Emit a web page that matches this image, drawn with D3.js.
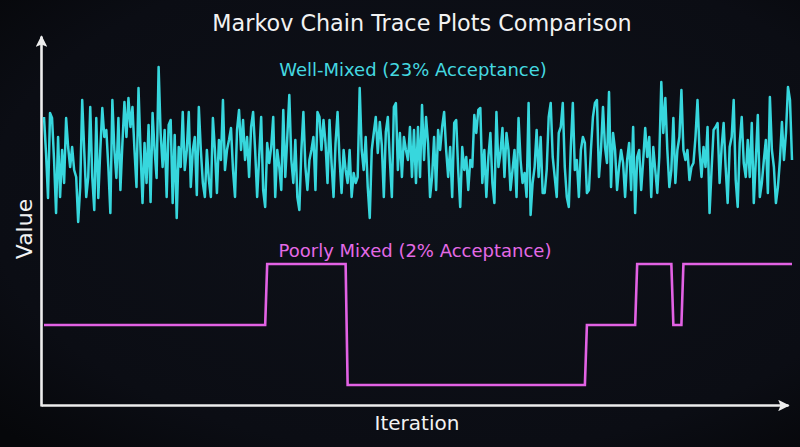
<!DOCTYPE html>
<html>
<head>
<meta charset="utf-8">
<script src="https://cdn.jsdelivr.net/npm/d3@7"></script>
<style>
  html, body { margin: 0; padding: 0; background: #0b0d14; }
  svg { display: block; }
</style>
</head>
<body>
<svg id="chart" width="800" height="447"></svg>
<script>
// ---------- DATA ----------
const titleText = "Markov Chain Trace Plots Comparison";
const xLabel = "Iteration";
const yLabel = "Value";
const wellLabel = "Well-Mixed (23% Acceptance)";
const poorLabel = "Poorly Mixed (2% Acceptance)";

// Well-mixed chain (23% acceptance)
const wellMixed = [
  288,252,207,292,287,245,192,268,208,255,222,287,258,238,258,235,228,183,218,305,
  255,208,228,298,228,195,287,207,255,297,268,275,238,192,305,255,227,287,215,262,
  303,268,307,278,298,255,218,317,255,202,262,222,280,203,292,255,227,338,272,238,
  275,208,280,285,202,270,187,258,238,293,235,255,293,218,255,268,210,298,255,222,
  208,
  255,225,208,287,255,212,265,245,305,235,255,265,277,235,208,275,295,255,285,245,
  268,228,278,293,255,208,248,288,215,198,262,242,258,288,208,255,238,215,295,228,
  268,310,245,222,265,208,195,255,293,238,215,245,255,268,215,293,288,255,285,262,
  222,285,242,208,262,293,245,212,255,235,222,255,208,232,222,228,317,255,235,268,
  218,187,255,272,288,252,283,260,208,273,288,245,208,298,302,
  235,272,228,268,255,245,278,228,275,222,278,228,300,245,288,262,208,228,268,215,
  275,255,278,293,255,228,258,208,282,285,235,198,258,235,248,215,245,238,290,272,
  295,297,222,255,208,248,272,222,202,293,238,252,277,228,272,255,215,235,255,208,
  287,245,222,232,208,302,190,222,238,275,228,268,212,212,235,288,302,248,228,208,
  272,278,302,238,208,198,258,302,235,245,208,255,268,262,212,215,255,288,
  302,305,228,255,298,258,242,313,218,272,255,215,238,255,242,208,245,262,215,278,
  192,248,255,215,245,277,248,268,208,258,235,212,248,323,272,307,255,218,235,287,
  222,255,268,315,255,245,255,225,238,242,268,305,255,228,258,238,278,192,235,275,
  278,282,222,258,282,238,202,258,268,305,225,198,262,288,242,228,265,228,282,202,
  245,290,208,222,245,265,212,308,255,238,202,218,245,283,245,272,318,305,245
];

// Poorly-mixed chain (2% acceptance): stuck levels and how many iterations each lasts
const poorRunValues  = [80, 141, 20, 80, 141, 80, 141];
const poorRunLengths = [111, 40, 119, 25, 18, 5, 55];

// ---------- BUILD ----------
const poorMixed = [];
poorRunValues.forEach((v, i) => { for (let k = 0; k < poorRunLengths[i]; k++) poorMixed.push(v); });

const W = 800, H = 447;
const svg = d3.select("#chart");

// background with soft vignette
const defs = svg.append("defs");
const bg = defs.append("radialGradient").attr("id", "bg").attr("cx", "55%").attr("cy", "45%").attr("r", "75%");
bg.append("stop").attr("offset", "0%").attr("stop-color", "#0e1119");
bg.append("stop").attr("offset", "75%").attr("stop-color", "#0b0d14");
bg.append("stop").attr("offset", "100%").attr("stop-color", "#06070a");
svg.append("rect").attr("width", W).attr("height", H).attr("fill", "url(#bg)");

defs.append("marker").attr("id", "arrow").attr("viewBox", "0 0 10 10")
  .attr("refX", 9).attr("refY", 5).attr("markerWidth", 4.4).attr("markerHeight", 4.4)
  .attr("markerUnits", "strokeWidth").attr("orient", "auto")
  .append("path").attr("d", "M0,0 L10,5 L0,10 L2,5 Z").attr("fill", "#ededed");

const x = d3.scaleLinear().domain([0, wellMixed.length - 1]).range([44, 792]);
const y = d3.scaleLinear().domain([0, 365]).range([405, 40]);

// axes (no ticks), with arrows
const axisColor = "#ededed";
const xAxis = d3.axisBottom(d3.scaleLinear().domain([0, 1]).range([41, 788])).tickValues([]).tickSizeOuter(0);
const yAxis = d3.axisLeft(d3.scaleLinear().domain([0, 1]).range([406, 36])).tickValues([]).tickSizeOuter(0);
const gx = svg.append("g").attr("transform", "translate(0,405)").call(xAxis);
const gy = svg.append("g").attr("transform", "translate(41,0)").call(yAxis);
[gx, gy].forEach(g => g.select(".domain")
  .attr("stroke", axisColor).attr("stroke-width", 2.6).attr("marker-end", "url(#arrow)"));

const line = d3.line().x((d, i) => x(i)).y(d => y(d));

svg.append("path").datum(poorMixed).attr("d", line)
  .attr("fill", "none").attr("stroke", "#e262e4").attr("stroke-width", 2.6)
  .attr("stroke-linejoin", "miter");

svg.append("path").datum(wellMixed).attr("d", line)
  .attr("fill", "none").attr("stroke", "#37d7dd").attr("stroke-width", 2.5)
  .attr("stroke-linejoin", "round");

const font = "'DejaVu Sans', sans-serif";
svg.append("text").attr("x", 422).attr("y", 31).attr("text-anchor", "middle")
  .attr("font-family", font).attr("font-size", 22.3).attr("fill", "#f2f2f2").text(titleText);
svg.append("text").attr("x", 413).attr("y", 76).attr("text-anchor", "middle")
  .attr("font-family", font).attr("font-size", 18).attr("fill", "#45d9e0").text(wellLabel);
svg.append("text").attr("x", 415).attr("y", 257).attr("text-anchor", "middle")
  .attr("font-family", font).attr("font-size", 18).attr("fill", "#e46ae6").text(poorLabel);
svg.append("text").attr("x", 417).attr("y", 430).attr("text-anchor", "middle")
  .attr("font-family", font).attr("font-size", 20).attr("fill", "#f2f2f2").text(xLabel);
svg.append("text").attr("transform", "translate(32,229) rotate(-90)").attr("text-anchor", "middle")
  .attr("font-family", font).attr("font-size", 22).attr("fill", "#f2f2f2").text(yLabel);
</script>
</body>
</html>
